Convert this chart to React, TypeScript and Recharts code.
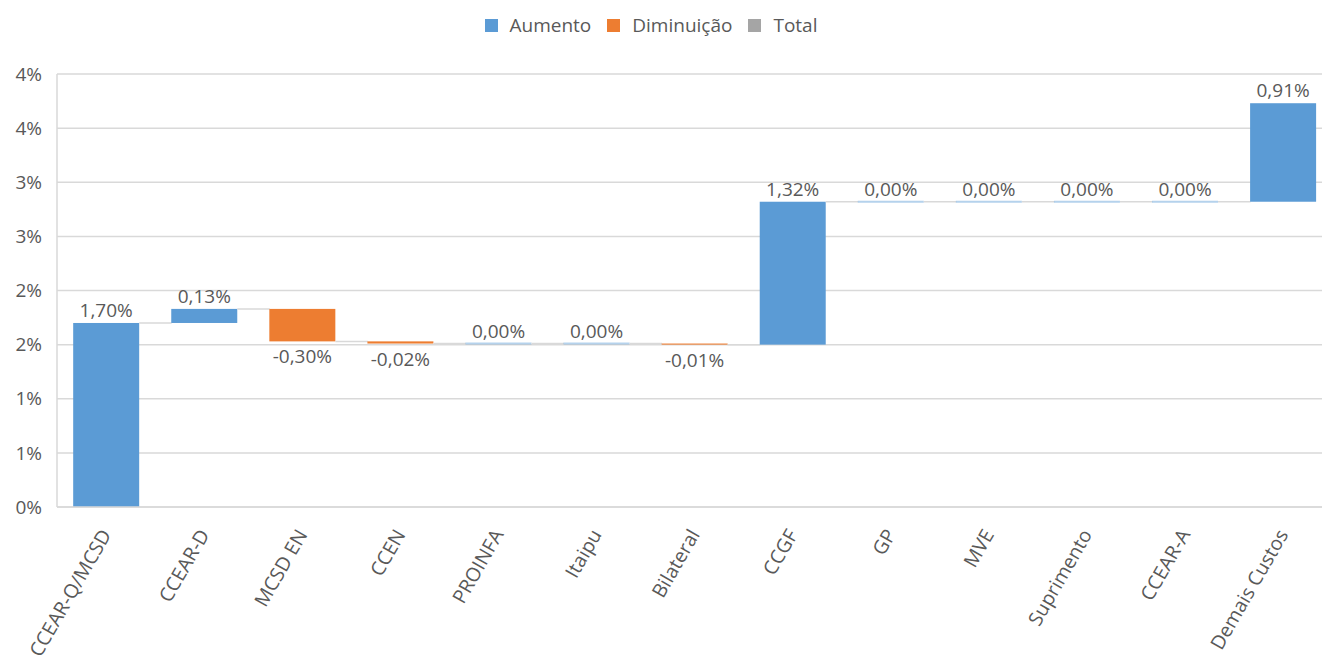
import React from 'react';
import { BarChart, Bar, XAxis, YAxis, CartesianGrid, Legend, LabelList } from 'recharts';

const categories = ['CCEAR-Q/MCSD', 'CCEAR-D', 'MCSD EN', 'CCEN', 'PROINFA', 'Itaipu', 'Bilateral', 'CCGF', 'GP', 'MVE', 'Suprimento', 'CCEAR-A', 'Demais Custos'];
const deltas = [1.7, 0.13, -0.3, -0.02, 0.0, 0.0, -0.01, 1.32, 0.0, 0.0, 0.0, 0.0, 0.91];
const yTicks = [0, 0.5, 1, 1.5, 2, 2.5, 3, 3.5, 4];
const yTickLabels = ['0%', '1%', '1%', '2%', '2%', '3%', '3%', '4%', '4%'];
const legendNames = ['Aumento', 'Diminuição', 'Total'];
const legendColors = ['#5B9BD5', '#ED7D31', '#A5A5A5'];

const FONT = '"Open Sans", "Noto Sans", sans-serif';
const TEXT = '#595959';
const GRID = '#D9D9D9';
const GAP_RATIO = 0.33;

let running = 0;
const data = categories.map((name, i) => {
  const start = running;
  running = Math.round((running + deltas[i]) * 10000) / 10000;
  return { name, delta: deltas[i], range: [Math.min(start, running), Math.max(start, running)] };
});

const fmt = (v: number) => v.toFixed(2).replace('.', ',') + '%';

const WaterfallShape = (props: any) => {
  const { x, y, width, height, payload, index } = props;
  const d = payload.delta;
  const color = d < 0 ? legendColors[1] : legendColors[0];
  const endY = d < 0 ? y + height : y;
  const gap = (width * GAP_RATIO) / (1 - GAP_RATIO);
  const isLast = index === data.length - 1;
  return (
    <g>
      {height >= 1 ? (
        <rect x={x} y={y} width={width} height={height} fill={color} />
      ) : (
        <line x1={x} x2={x + width} y1={y} y2={y} stroke={color} strokeOpacity={0.45} strokeWidth={2} />
      )}
      {!isLast && (
        <line x1={x + width} x2={x + width + gap} y1={endY} y2={endY} stroke={GRID} strokeWidth={1.5} />
      )}
    </g>
  );
};

const ValueLabel = (props: any) => {
  const { x, y, width, height, value } = props;
  const neg = value < 0;
  const ty = neg ? y + height + 22 : y - 6;
  return (
    <text x={x + width / 2} y={ty} textAnchor="middle" fill={TEXT} fontSize={19} fontFamily={FONT}>
      {fmt(value)}
    </text>
  );
};

const XTick = (props: any) => {
  const { x, y, payload } = props;
  return (
    <g transform={`translate(${x},${y + 22})`}>
      <text x={0} y={0} dy="0.35em" textAnchor="end" transform="rotate(-60)" fill={TEXT} fontSize={19.5} fontFamily={FONT}>
        {payload.value}
      </text>
    </g>
  );
};

const LegendContent = () => (
  <div style={{ display: 'flex', justifyContent: 'center', alignItems: 'center', height: 26, fontFamily: FONT, fontSize: 19, color: TEXT }}>
    {legendNames.map((n, i) => (
      <div key={n} style={{ display: 'flex', alignItems: 'center', marginRight: i < legendNames.length - 1 ? 16 : 0 }}>
        <span style={{ display: 'inline-block', width: 13, height: 13, background: legendColors[i], marginRight: 12 }} />
        <span>{n}</span>
      </div>
    ))}
  </div>
);

export default function App() {
  return (
    <div style={{ position: 'absolute', left: 0, top: 0, width: 1322, height: 666, overflow: 'hidden', background: '#fff' }}>
      <BarChart width={1340} height={666} data={data} margin={{ top: 48, right: 8, bottom: 0, left: 0 }} barCategoryGap={`${GAP_RATIO * 50}%`}>
        <CartesianGrid vertical={false} stroke={GRID} strokeWidth={1.5} />
        <XAxis dataKey="name" interval={0} height={159} tickLine={false} tickSize={0} axisLine={{ stroke: GRID, strokeWidth: 1.5 }} tick={<XTick />} />
        <YAxis
          domain={[0, 4]}
          ticks={yTicks}
          width={57}
          tickLine={false}
          tickSize={0}
          tickMargin={15}
          axisLine={{ stroke: GRID, strokeWidth: 1.5 }}
          tickFormatter={(v: number, i: number) => yTickLabels[i]}
          tick={{ fill: TEXT, fontSize: 19, fontFamily: FONT }}
          interval={0}
        />
        <Legend verticalAlign="top" content={<LegendContent />} wrapperStyle={{ top: 12, left: 0, width: 1302 }} />
        <Bar dataKey="range" isAnimationActive={false} shape={<WaterfallShape />}>
          <LabelList dataKey="delta" content={<ValueLabel />} />
        </Bar>
      </BarChart>
    </div>
  );
}
